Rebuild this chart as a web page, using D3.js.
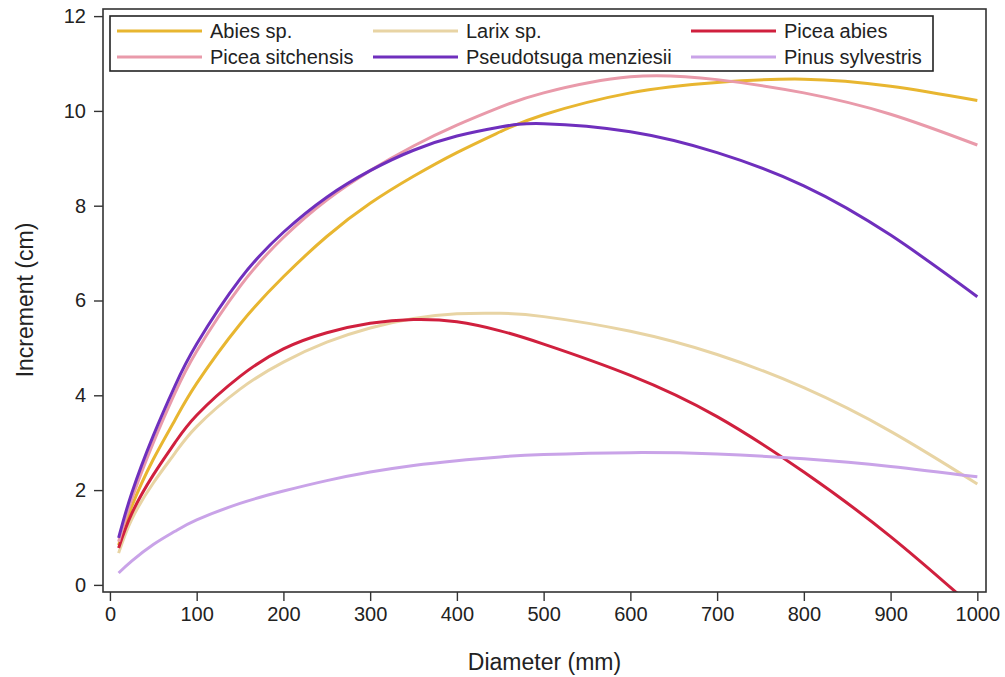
<!DOCTYPE html>
<html>
<head>
<meta charset="utf-8">
<script src="https://cdn.jsdelivr.net/npm/d3@7"></script>
<style>
  body { margin: 0; background: #fff; }
  svg { font-family: "Liberation Sans", Arial, sans-serif; }
</style>
</head>
<body>
<div id="chart"></div>
<script>
const diameters = [10, 25, 50, 75, 100, 150, 200, 250, 300, 350, 400, 450, 500, 600, 700, 800, 900, 1000];

const abies       = [0.84, 1.65, 2.65, 3.48, 4.25, 5.50, 6.50, 7.35, 8.05, 8.62, 9.12, 9.56, 9.92, 10.38, 10.60, 10.67, 10.52, 10.22];
const larix       = [0.67, 1.38, 2.15, 2.78, 3.34, 4.13, 4.70, 5.12, 5.42, 5.62, 5.72, 5.73, 5.66, 5.35, 4.86, 4.16, 3.24, 2.13];
const piceaAbies  = [0.78, 1.50, 2.32, 3.00, 3.58, 4.40, 4.98, 5.32, 5.52, 5.60, 5.55, 5.36, 5.08, 4.42, 3.55, 2.38, 1.02, -0.55];
const piceaSitch  = [0.91, 1.80, 3.00, 4.05, 4.93, 6.30, 7.33, 8.12, 8.74, 9.26, 9.70, 10.08, 10.38, 10.72, 10.66, 10.38, 9.93, 9.28];
const pseudotsuga = [0.99, 1.93, 3.15, 4.20, 5.08, 6.45, 7.44, 8.18, 8.74, 9.17, 9.47, 9.66, 9.73, 9.56, 9.12, 8.42, 7.38, 6.08];
const pinus       = [0.25, 0.50, 0.85, 1.13, 1.37, 1.72, 1.98, 2.20, 2.38, 2.52, 2.62, 2.70, 2.75, 2.79, 2.76, 2.66, 2.50, 2.28];

const speciesNames = ["Abies sp.", "Larix sp.", "Picea abies", "Picea sitchensis", "Pseudotsuga menziesii", "Pinus sylvestris"];
const speciesValues = [abies, larix, piceaAbies, piceaSitch, pseudotsuga, pinus];
const speciesColors = ["#e8b630", "#e8d4a4", "#d0203e", "#e99aaa", "#6f2fbd", "#c9a3e8"];

const xTicks = [0, 100, 200, 300, 400, 500, 600, 700, 800, 900, 1000];
const yTicks = [0, 2, 4, 6, 8, 10, 12];

const width = 1005, height = 677;
const plot = { left: 103, right: 986, top: 9, bottom: 592 };

const svg = d3.select("#chart").append("svg")
    .attr("width", width)
    .attr("height", height);

const x = d3.scaleLinear().domain([-8, 1010]).range([plot.left, plot.right]);
const y = d3.scaleLinear().domain([-0.15, 12.15]).range([plot.bottom, plot.top]);

// clip so the curves stay inside the frame
svg.append("clipPath").attr("id", "clip")
  .append("rect")
    .attr("x", plot.left)
    .attr("y", plot.top)
    .attr("width", plot.right - plot.left)
    .attr("height", plot.bottom - plot.top);

// Axes
const xAxis = svg.append("g")
    .attr("transform", `translate(0,${plot.bottom})`)
    .call(d3.axisBottom(x).tickValues(xTicks).tickFormat(d3.format("d")).tickSize(9).tickPadding(6));

const yAxis = svg.append("g")
    .attr("transform", `translate(${plot.left},0)`)
    .call(d3.axisLeft(y).tickValues(yTicks).tickSize(9).tickPadding(8));

[xAxis, yAxis].forEach(a => {
    a.select(".domain").remove();
    a.selectAll("line").attr("stroke", "#333").attr("stroke-width", 1.4);
    a.selectAll("text").style("font-size", "20px").attr("fill", "#222");
});

// Curves
const line = d3.line()
    .x((d, i) => x(diameters[i]))
    .y(d => y(d))
    .curve(d3.curveNatural);

svg.append("g")
    .attr("clip-path", "url(#clip)")
  .selectAll("path")
  .data(speciesValues)
  .join("path")
    .attr("fill", "none")
    .attr("stroke", (d, i) => speciesColors[i])
    .attr("stroke-width", 3)
    .attr("d", line);

// Frame
svg.append("rect")
    .attr("x", plot.left)
    .attr("y", plot.top)
    .attr("width", plot.right - plot.left)
    .attr("height", plot.bottom - plot.top)
    .attr("fill", "none")
    .attr("stroke", "#333")
    .attr("stroke-width", 1.6);

// Legend
const legend = svg.append("g");
legend.append("rect")
    .attr("x", 110)
    .attr("y", 16)
    .attr("width", 823)
    .attr("height", 55)
    .attr("fill", "#fff")
    .attr("stroke", "#222")
    .attr("stroke-width", 1.6);

const colX = [117, 373, 691];
const rowY = [31, 57];

speciesNames.forEach((name, i) => {
    const cx = colX[i % 3], cy = rowY[Math.floor(i / 3)];
    legend.append("line")
        .attr("x1", cx).attr("x2", cx + 85)
        .attr("y1", cy).attr("y2", cy)
        .attr("stroke", speciesColors[i])
        .attr("stroke-width", 3);
    legend.append("text")
        .attr("x", cx + 93)
        .attr("y", cy)
        .attr("dy", "0.35em")
        .style("font-size", "20px")
        .attr("fill", "#222")
        .text(name);
});

// Axis titles
svg.append("text")
    .attr("x", (plot.left + plot.right) / 2)
    .attr("y", 670)
    .attr("text-anchor", "middle")
    .style("font-size", "23px")
    .attr("fill", "#222")
    .text("Diameter (mm)");

svg.append("text")
    .attr("transform", `translate(33,300) rotate(-90)`)
    .attr("text-anchor", "middle")
    .style("font-size", "23px")
    .attr("fill", "#222")
    .text("Increment (cm)");
</script>
</body>
</html>
